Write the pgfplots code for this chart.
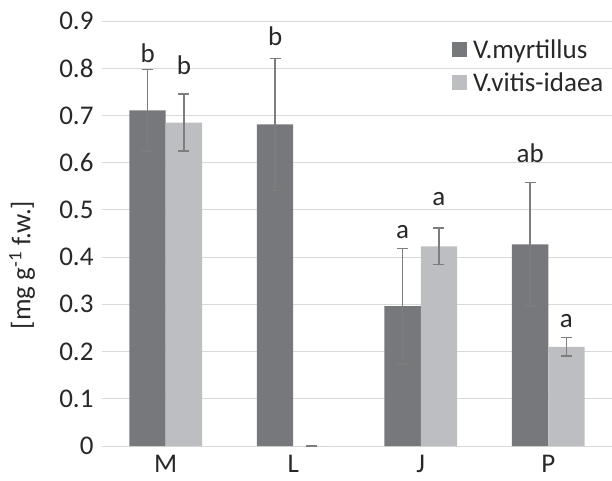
\documentclass[border=0pt]{standalone}
\usepackage{fontspec}
\setmainfont{Carlito}
\usepackage{pgfplots}
\pgfplotsset{compat=1.18}
\usepackage{pgfplotstable}
\definecolor{darkbar}{RGB}{119,120,123}
\definecolor{lightbar}{RGB}{189,190,193}
\definecolor{errcol}{RGB}{125,125,125}
\definecolor{gridcol}{RGB}{217,217,217}
\definecolor{txt}{RGB}{40,40,40}
\pgfplotstableread{
x y err
0 0.711 0.086
1 0.681 0.140
2 0.296 0.122
3 0.427 0.131
}\myrt
\pgfplotstableread{
x y err
0 0.685 0.060
1 0.000 0.000
2 0.423 0.039
3 0.210 0.020
}\vitis
\begin{document}
\begin{tikzpicture}
\begin{axis}[
  scale only axis,
  width=510bp, height=425bp,
  xmin=-0.5, xmax=3.5, ymin=0, ymax=0.9,
  ybar=0pt, bar width=36.3bp,
  xtick=data, xticklabels={M,L,J,P},
  ytick={0,0.1,...,0.9},
  yticklabels={0,0.1,0.2,0.3,0.4,0.5,0.6,0.7,0.8,0.9},
  major tick length=0pt,
  axis line style={draw=none},
  ymajorgrids, grid style={gridcol, line width=1bp},
  font=\fontsize{27bp}{32bp}\selectfont,
  every tick label/.append style={text=txt},
  /pgf/number format/assume math mode=true,
  yticklabel style={xshift=-5bp},
  xticklabel style={yshift=-6bp},
  ylabel={[mg g\textsuperscript{-1} f.w.]},
  every axis y label/.style={at={(rel axis cs:0,0.426)}, rotate=90, anchor=center, yshift=80bp, text=txt},
  legend style={at={(rel axis cs:0.686,0.962)}, anchor=north west, draw=none, fill=none,
    font=\fontsize{27bp}{32bp}\selectfont, text=txt, row sep=9bp, inner sep=0pt},
  legend cell align=left,
  legend image code/.code={\fill[#1] (0bp,-7.5bp) rectangle (15bp,7.5bp); \path (0bp,0bp) (19bp,0bp);},
  error bars/error bar style={errcol, line width=1.6bp},
  error bars/error mark options={errcol, rotate=90, mark size=5.5bp, line width=1.6bp},
]
\addplot[fill=darkbar, draw=none, error bars/.cd, y dir=both, y explicit]
  table[x=x, y=y, y error=err]{\myrt};
\addlegendentry{V.myrtillus}
\addplot[fill=lightbar, draw=none, error bars/.cd, y dir=both, y explicit]
  table[x=x, y=y, y error=err]{\vitis};
\addlegendentry{V.vitis-idaea}
\begin{scope}[every node/.style={anchor=base, text=txt, font=\fontsize{27bp}{32bp}\selectfont}]
\node at (axis cs:-0.142,0.813) {b};
\node at (axis cs:0.142,0.786) {b};
\node at (axis cs:0.858,0.849) {b};
\node at (axis cs:1.858,0.439) {a};
\node at (axis cs:2.142,0.510) {a};
\node at (axis cs:2.858,0.601) {ab};
\node at (axis cs:3.142,0.251) {a};
\end{scope}
\coordinate (bl) at (rel axis cs:0,0);
\end{axis}
\pgfresetboundingbox
\path (bl) ++(-102bp,-35bp) rectangle ++(612bp,481bp);
\end{tikzpicture}
\end{document}
